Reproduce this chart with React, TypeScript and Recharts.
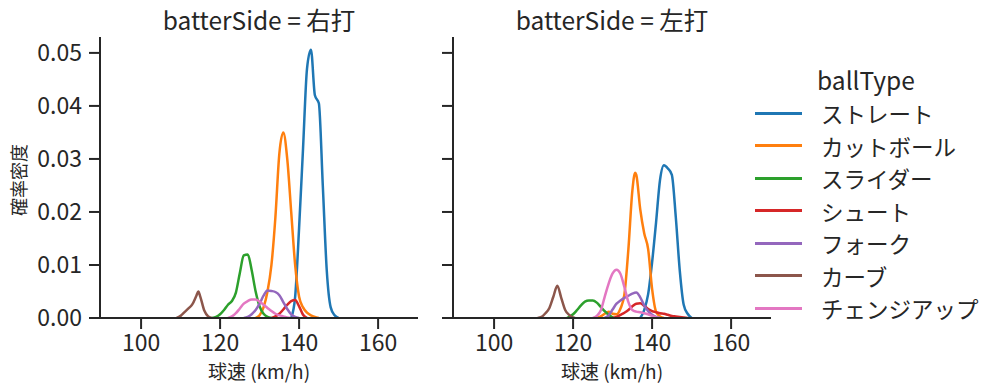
import React from 'react';
import { LineChart, Line, XAxis, YAxis } from 'recharts';

// speed (km/h), density pairs
const rightStraight = [[138, 0], [139, 0.004], [140, 0.017], [141, 0.032], [142, 0.047], [143, 0.0506], [144, 0.042], [145, 0.0405], [146, 0.025], [147, 0.009], [148, 0.002], [149, 0.0005], [150, 0]];
const rightCutter = [[129, 0], [130, 0.0005], [131, 0.002], [132, 0.005], [133, 0.01], [134, 0.019], [135, 0.031], [136, 0.035], [137, 0.03], [138, 0.02], [139, 0.01], [140, 0.004], [141, 0.002], [142, 0.001], [143, 0.0005], [144, 0.0002], [145, 0]];
const rightSlider = [[118, 0], [119, 0.0002], [120, 0.0007], [121, 0.0015], [122, 0.0025], [123, 0.0032], [124, 0.0048], [125, 0.0085], [126, 0.0118], [127, 0.012], [128, 0.009], [129, 0.005], [130, 0.0022], [131, 0.0008], [132, 0.0002], [133, 0]];
const rightShoot = [[133, 0], [134, 0.0003], [135, 0.0008], [136, 0.0016], [137, 0.0025], [138, 0.0032], [139, 0.0034], [140, 0.0022], [141, 0.0006], [142, 0]];
const rightFork = [[126, 0], [127, 0.0002], [128, 0.0007], [129, 0.0015], [130, 0.0027], [131, 0.0042], [132, 0.0052], [133, 0.0051], [134, 0.0049], [135, 0.0043], [136, 0.003], [137, 0.0017], [138, 0.0007], [139, 0.0002], [140, 0]];
const rightCurve = [[109, 0], [110, 0.0004], [111, 0.0011], [112, 0.0018], [113, 0.0026], [114, 0.0042], [114.5, 0.005], [115, 0.004], [116, 0.0014], [117, 0.0003], [118, 0]];
const rightChangeup = [[122, 0], [123, 0.0003], [124, 0.0009], [125, 0.0018], [126, 0.0027], [127, 0.0032], [128, 0.0035], [129, 0.0035], [130, 0.0031], [131, 0.0025], [132, 0.0019], [133, 0.0013], [134, 0.0008], [135, 0.0005], [136, 0.0003], [137, 0.0001], [138, 0]];

const leftStraight = [[137, 0], [138, 0.0015], [139, 0.0045], [140, 0.0105], [141, 0.018], [142, 0.026], [143, 0.0288], [144, 0.0282], [145, 0.027], [146, 0.019], [147, 0.009], [148, 0.0025], [149, 0.0008], [150, 0]];
const leftCutter = [[126, 0], [127, 0.0003], [128, 0.0008], [129, 0.0012], [130, 0.0008], [131, 0.0007], [132, 0.0018], [133, 0.0045], [134, 0.013], [135, 0.024], [135.7, 0.0274], [136, 0.027], [137, 0.0205], [138, 0.016], [139, 0.013], [140, 0.0055], [141, 0.0012], [142, 0.0003], [143, 0]];
const leftSlider = [[118.5, 0], [119, 0.0002], [120, 0.0007], [121, 0.0015], [122, 0.0024], [123, 0.0031], [124, 0.0033], [125, 0.0033], [126, 0.0029], [127, 0.0021], [128, 0.0013], [129, 0.0006], [130, 0.0001], [130.5, 0]];
const leftShoot = [[130, 0], [131, 0.0002], [132, 0.0006], [133, 0.001], [134, 0.0015], [135, 0.0022], [136, 0.0027], [137, 0.0028], [138, 0.0023], [139, 0.0017], [140, 0.0013], [141, 0.0011], [142, 0.0009], [143, 0.0008], [144, 0.0006], [145, 0.0004], [146, 0.0003], [147, 0.0002], [148, 0.0001], [149, 0]];
const leftFork = [[128, 0], [129, 0.0005], [130, 0.0016], [131, 0.0027], [132, 0.0033], [133, 0.0038], [134, 0.0042], [135, 0.0046], [136, 0.0048], [137, 0.0039], [138, 0.0024], [139, 0.0013], [140, 0.0006], [141, 0.0002], [142, 0]];
const leftCurve = [[111, 0], [112, 0.0002], [113, 0.0009], [114, 0.0019], [115, 0.004], [116, 0.0061], [117, 0.0038], [118, 0.0015], [119, 0.0006], [120, 0.0001], [120.5, 0]];
const leftChangeup = [[125, 0], [126, 0.0004], [127, 0.0014], [128, 0.004], [129, 0.0065], [130, 0.0084], [131, 0.0091], [132, 0.0083], [133, 0.0058], [134, 0.003], [135, 0.0015], [136, 0.0012], [137, 0.0011], [138, 0.0009], [139, 0.0007], [140, 0.0004], [141, 0.0001], [142, 0]];

const ballTypes = ['ストレート', 'カットボール', 'スライダー', 'シュート', 'フォーク', 'カーブ', 'チェンジアップ'];
const colors = ['#1f77b4', '#ff7f0e', '#2ca02c', '#d62728', '#9467bd', '#8c564b', '#e377c2'];
const xTicks = [100, 120, 140, 160];
const yTicks = [0, 0.01, 0.02, 0.03, 0.04, 0.05];

const rightSeries = [rightStraight, rightCutter, rightSlider, rightShoot, rightFork, rightCurve, rightChangeup];
const leftSeries = [leftStraight, leftCutter, leftSlider, leftShoot, leftFork, leftCurve, leftChangeup];

const FONT = '"Noto Sans CJK JP", "Noto Sans", sans-serif';
const INK = '#262626';

const toPoints = (pairs: number[][]) => pairs.map(([v, d]) => ({ v, d }));

const Panel: React.FC<{ series: number[][][]; showYLabels: boolean }> = ({ series, showYLabels }) => (
  <LineChart width={430} height={391} margin={{ top: 37, right: 12, bottom: 0, left: 0 }}>
    <XAxis
      dataKey="v"
      type="number"
      domain={[89.6, 170.1]}
      ticks={xTicks}
      allowDataOverflow
      height={73}
      stroke={INK}
      strokeWidth={2}
      tickSize={11}
      tickMargin={6}
      tick={{ fill: INK, fontSize: 23, fontFamily: FONT }}
    />
    <YAxis
      type="number"
      domain={[0, 0.053]}
      ticks={yTicks}
      allowDataOverflow
      width={100}
      stroke={INK}
      strokeWidth={2}
      tickSize={11}
      tickMargin={7}
      tickFormatter={(t: number) => (showYLabels ? t.toFixed(2) : '')}
      tick={{ fill: INK, fontSize: 23, fontFamily: FONT }}
    />
    {series.map((s, i) => (
      <Line
        key={ballTypes[i]}
        data={toPoints(s)}
        dataKey="d"
        name={ballTypes[i]}
        type="monotone"
        stroke={colors[i]}
        strokeWidth={2.5}
        dot={false}
        activeDot={false}
        isAnimationActive={false}
      />
    ))}
  </LineChart>
);

const text = (extra: React.CSSProperties): React.CSSProperties => ({
  position: 'absolute',
  fontFamily: FONT,
  color: INK,
  whiteSpace: 'nowrap',
  lineHeight: 1,
  ...extra,
});

export default function App() {
  return (
    <div style={{ position: 'absolute', left: 0, top: 0, width: 999, height: 391, background: '#fff', overflow: 'hidden' }}>
      <div style={{ position: 'absolute', left: 0, top: 0 }}>
        <Panel series={rightSeries} showYLabels />
      </div>
      <div style={{ position: 'absolute', left: 353, top: 0 }}>
        <Panel series={leftSeries} showYLabels={false} />
      </div>

      <div style={text({ left: 259, top: 20, fontSize: 24.5, transform: 'translate(-50%, -50%)' })}>batterSide = 右打</div>
      <div style={text({ left: 612, top: 20, fontSize: 24.5, transform: 'translate(-50%, -50%)' })}>batterSide = 左打</div>
      <div style={text({ left: 259, top: 370, fontSize: 19, transform: 'translate(-50%, -50%)' })}>球速 (km/h)</div>
      <div style={text({ left: 612, top: 370, fontSize: 19, transform: 'translate(-50%, -50%)' })}>球速 (km/h)</div>
      <div style={text({ left: 18, top: 180, fontSize: 18, transform: 'translate(-50%, -50%) rotate(-90deg)' })}>確率密度</div>

      <div style={text({ left: 866, top: 80, fontSize: 24.5, transform: 'translate(-50%, -50%)' })}>ballType</div>
      {ballTypes.map((b, i) => (
        <React.Fragment key={b}>
          <div style={{ position: 'absolute', left: 755, top: 113 + i * 32.5 - 1.5, width: 47, height: 3, background: colors[i] }} />
          <div style={text({ left: 821, top: 113 + i * 32.5, fontSize: 22.5, transform: 'translateY(-50%)' })}>{b}</div>
        </React.Fragment>
      ))}
    </div>
  );
}
